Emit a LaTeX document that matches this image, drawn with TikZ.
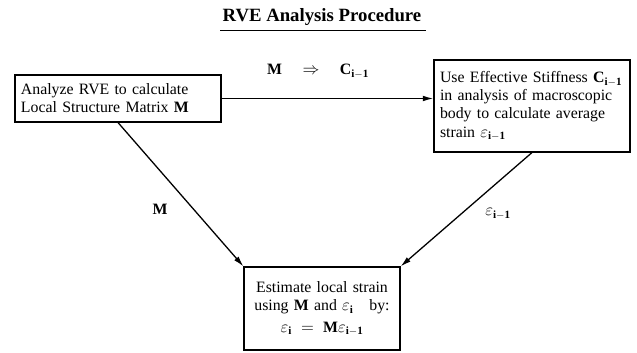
\documentclass[tikz,border=0pt]{standalone}
\usepackage{amsmath}
\usepackage{fontspec}
\setmainfont{Liberation Serif}
\usetikzlibrary{arrows.meta}

\tikzset{
  txt/.style={font=\fontsize{13.5}{15.5}\selectfont},
  stepbox/.style={draw, txt, line width=0.9pt, inner xsep=0.18cm, inner ysep=0pt},
  flow/.style={-{Latex[length=3.2mm,width=1.7mm]}, line width=1.1pt},
}

\begin{document}
\begin{tikzpicture}[x=0.03cm,y=-0.03cm]
\useasboundingbox (0,0) rectangle (637,352);
% title
\node[inner sep=0pt, font=\bfseries\fontsize{16}{18}\selectfont] (title) at (322,17) {RVE Analysis Procedure};
\draw[line width=1.1pt] ([xshift=-2pt,yshift=-4pt]title.south west) -- ([xshift=4pt,yshift=-4pt]title.south east);
% boxes
\node[stepbox, text width=5.82cm, minimum height=1.41cm, align=left] (rve) at (118,98.5)
  {Analyze RVE to calculate\\ Local Structure Matrix \textbf{M}};
\node[stepbox, text width=5.52cm, minimum height=2.76cm, align=left] (stiff) at (532,106)
  {Use Effective Stiffness $\mathbf{C}_{\mathbf{i-1}}$\\ in analysis of macroscopic\\ body to calculate average\\ strain $\varepsilon_{\mathbf{i-1}}$};
\node[stepbox, text width=4.32cm, minimum height=2.49cm, align=center] (est) at (322,308.5)
  {Estimate local strain\\ using \textbf{M} and $\varepsilon_{\mathbf{i}}$\ \ \ by:\\[3pt] $\varepsilon_{\mathbf{i}} = \mathbf{M}\varepsilon_{\mathbf{i-1}}$};
% connectors
\draw[flow] (rve.east) -- (rve.east -| stiff.west);
\draw[flow] (rve.south) -- (est.north west);
\draw[flow] (stiff.south) -- (est.north east);
% labels
\node[txt] (lmc) at (318,71) {$\mathbf{M}\quad\Rightarrow\quad\mathbf{C}_{\mathbf{i-1}}$};
\node[txt] (lm) at (160,209) {$\mathbf{M}$};
\node[txt] (leps) at (498,214) {$\varepsilon_{\mathbf{i-1}}$};
\end{tikzpicture}
\end{document}
